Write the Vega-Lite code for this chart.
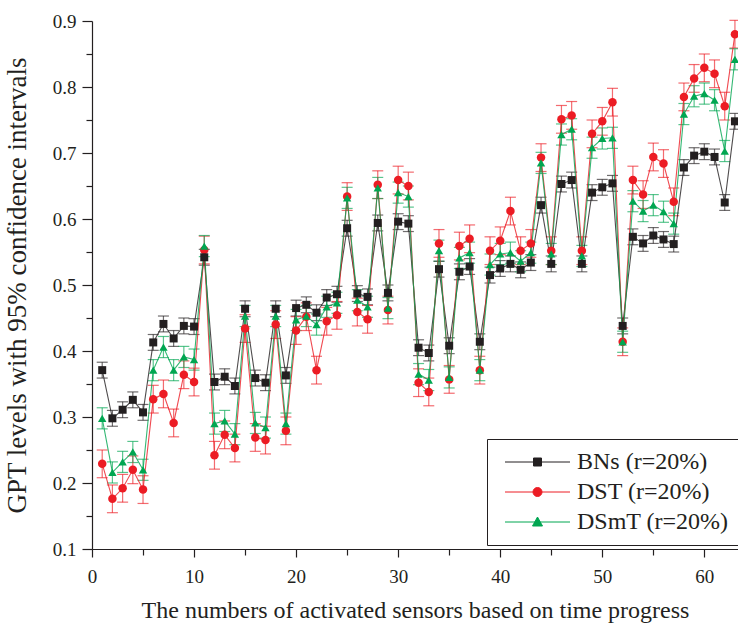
{
  "$schema": "https://vega.github.io/schema/vega-lite/v6.json",
  "width": 646,
  "height": 528,
  "autosize": "none",
  "padding": {"left": 92, "top": 21, "right": 0, "bottom": 80},
  "background": "white",
  "config": {
    "view": {"stroke": null},
    "font": "Liberation Serif",
    "axis": {"grid": false, "domainColor": "#231f20", "domainWidth": 1.2, "tickColor": "#231f20", "tickWidth": 1.2, "labelColor": "#231f20", "titleColor": "#231f20", "labelFont": "Liberation Serif", "titleFont": "Liberation Serif", "labelFontSize": 19, "titleFontSize": 24, "titleFontWeight": "normal"}
  },
  "datasets": {
    "wide": [
      {"x":1,"b":0.371,"d":0.229,"s":0.298},{"x":2,"b":0.298,"d":0.176,"s":0.216},{"x":3,"b":0.311,"d":0.192,"s":0.232},
      {"x":4,"b":0.326,"d":0.220,"s":0.247},{"x":5,"b":0.307,"d":0.190,"s":0.220},{"x":6,"b":0.413,"d":0.327,"s":0.371},
      {"x":7,"b":0.441,"d":0.335,"s":0.406},{"x":8,"b":0.419,"d":0.291,"s":0.371},{"x":9,"b":0.438,"d":0.364,"s":0.391},
      {"x":10,"b":0.437,"d":0.353,"s":0.387},{"x":11,"b":0.542,"d":0.553,"s":0.559},{"x":12,"b":0.353,"d":0.242,"s":0.290},
      {"x":13,"b":0.361,"d":0.273,"s":0.294},{"x":14,"b":0.347,"d":0.253,"s":0.274},{"x":15,"b":0.464,"d":0.434,"s":0.453},
      {"x":16,"b":0.359,"d":0.269,"s":0.291},{"x":17,"b":0.352,"d":0.265,"s":0.284},{"x":18,"b":0.464,"d":0.440,"s":0.453},
      {"x":19,"b":0.363,"d":0.279,"s":0.290},{"x":20,"b":0.465,"d":0.431,"s":0.447},{"x":21,"b":0.470,"d":0.452,"s":0.453},
      {"x":22,"b":0.458,"d":0.371,"s":0.440},{"x":23,"b":0.481,"d":0.445,"s":0.467},{"x":24,"b":0.486,"d":0.454,"s":0.473},
      {"x":25,"b":0.586,"d":0.634,"s":0.632},{"x":26,"b":0.487,"d":0.459,"s":0.477},{"x":27,"b":0.482,"d":0.448,"s":0.467},
      {"x":28,"b":0.594,"d":0.652,"s":0.647},{"x":29,"b":0.488,"d":0.462,"s":0.465},{"x":30,"b":0.596,"d":0.659,"s":0.640},
      {"x":31,"b":0.593,"d":0.650,"s":0.634},{"x":32,"b":0.405,"d":0.352,"s":0.365},{"x":33,"b":0.397,"d":0.338,"s":0.356},
      {"x":34,"b":0.524,"d":0.563,"s":0.552},{"x":35,"b":0.408,"d":0.357,"s":0.360},{"x":36,"b":0.520,"d":0.559,"s":0.541},
      {"x":37,"b":0.528,"d":0.570,"s":0.549},{"x":38,"b":0.414,"d":0.371,"s":0.371},{"x":39,"b":0.515,"d":0.552,"s":0.531},
      {"x":40,"b":0.525,"d":0.567,"s":0.547},{"x":41,"b":0.532,"d":0.612,"s":0.549},{"x":42,"b":0.523,"d":0.552,"s":0.536},
      {"x":43,"b":0.534,"d":0.563,"s":0.549},{"x":44,"b":0.621,"d":0.693,"s":0.685},{"x":45,"b":0.532,"d":0.552,"s":0.547},
      {"x":46,"b":0.653,"d":0.751,"s":0.728},{"x":47,"b":0.659,"d":0.757,"s":0.736},{"x":48,"b":0.532,"d":0.552,"s":0.544},
      {"x":49,"b":0.640,"d":0.729,"s":0.708},{"x":50,"b":0.648,"d":0.748,"s":0.722},{"x":51,"b":0.654,"d":0.777,"s":0.723},
      {"x":52,"b":0.438,"d":0.414,"s":0.414},{"x":53,"b":0.573,"d":0.659,"s":0.627},{"x":54,"b":0.563,"d":0.637,"s":0.612},
      {"x":55,"b":0.575,"d":0.694,"s":0.621},{"x":56,"b":0.569,"d":0.684,"s":0.611},{"x":57,"b":0.562,"d":0.626,"s":0.593},
      {"x":58,"b":0.678,"d":0.785,"s":0.759},{"x":59,"b":0.696,"d":0.813,"s":0.786},{"x":60,"b":0.702,"d":0.829,"s":0.790},
      {"x":61,"b":0.694,"d":0.820,"s":0.780},{"x":62,"b":0.625,"d":0.771,"s":0.703},{"x":63,"b":0.748,"d":0.880,"s":0.842}
    ]
  },
  "data": {"name": "wide"},
  "transform": [
    {"fold": ["b", "d", "s"], "as": ["key", "value"]},
    {"lookup": "key", "from": {"data": {"values": [
      {"key":"b","series":"BNs (r=20%)","err":0.012},
      {"key":"d","series":"DST (r=20%)","err":0.021},
      {"key":"s","series":"DSmT (r=20%)","err":0.016}
    ]}, "key": "key", "fields": ["series", "err"]}}
  ],
  "encoding": {
    "x": {"field": "x", "type": "quantitative",
      "scale": {"domain": [0, 63.3], "nice": false, "zero": false},
      "axis": {"title": "The numbers of activated sensors based on time progress", "values": [0,5,10,15,20,25,30,35,40,45,50,55,60],
        "labelExpr": "datum.value % 10 === 0 ? datum.label : ''", "tickSize": {"condition": {"test": "datum.value % 10 === 0", "value": 8}, "value": 6},
        "labelPadding": 10, "titlePadding": 12, "labelFlush": false}},
    "y": {"field": "value", "type": "quantitative",
      "scale": {"domain": [0.1, 0.9], "nice": false, "zero": false},
      "axis": {"title": "GPT levels with 95% confidence intervals", "titleFontSize": 27, "values": [0.1,0.15,0.2,0.25,0.3,0.35,0.4,0.45,0.5,0.55,0.6,0.65,0.7,0.75,0.8,0.85,0.9],
        "labelExpr": "abs(datum.value*10 - round(datum.value*10)) < 0.01 ? format(datum.value, '.1f') : ''",
        "tickSize": {"condition": {"test": "abs(datum.value*10 - round(datum.value*10)) < 0.01", "value": 10}, "value": 6},
        "labelPadding": 6, "titlePadding": 21, "labelFlush": false}}
  },
  "layer": [
    {"mark": {"type": "errorbar", "ticks": {"size": 11}, "thickness": 1.2, "opacity": 0.65},
      "encoding": {"yError": {"field": "err"},
        "color": {"field": "series", "type": "nominal", "scale": {"domain": ["DSmT (r=20%)", "DST (r=20%)", "BNs (r=20%)"], "range": ["#00a651", "#ec1c24", "#231f20"]}, "legend": null}}},
    {"mark": {"type": "line", "strokeWidth": 1.1, "opacity": 0.8},
      "encoding": {"color": {"field": "series", "type": "nominal", "legend": null}}},
    {"transform": [{"filter": {"field": "series", "equal": "DST (r=20%)"}}],
      "mark": {"type": "point", "shape": "circle", "filled": true, "size": 72, "opacity": 1},
      "encoding": {"color": {"field": "series", "type": "nominal", "legend": null}}},
    {"transform": [{"filter": {"field": "series", "equal": "DSmT (r=20%)"}}],
      "mark": {"type": "point", "shape": "triangle-up", "filled": true, "size": 70, "opacity": 1},
      "encoding": {"color": {"field": "series", "type": "nominal", "legend": null}}},
    {"transform": [{"filter": {"field": "series", "equal": "BNs (r=20%)"}}],
      "mark": {"type": "point", "shape": "square", "filled": true, "size": 64, "opacity": 1},
      "encoding": {"color": {"field": "series", "type": "nominal", "legend": null}}},
    {"mark": {"type": "point", "filled": true, "size": 4, "opacity": 0, "strokeWidth": 1},
      "encoding": {
        "fill": {"field": "series", "type": "nominal",
          "scale": {"domain": ["BNs (r=20%)", "DST (r=20%)", "DSmT (r=20%)"], "range": ["#231f20", "#ec1c24", "#00a651"]},
          "legend": {"title": null, "orient": "none", "legendX": 395, "legendY": 418, "strokeColor": "#231f20", "padding": 11,
            "symbolOffset": 27.5, "labelOffset": 27.5, "labelFontSize": 24, "labelFont": "Liberation Serif", "labelColor": "#231f20", "rowPadding": 6, "symbolSize": 4, "symbolStrokeWidth": 1, "symbolOpacity": 1, "labelLimit": 400}},
        "stroke": {"field": "series", "type": "nominal",
          "scale": {"domain": ["BNs (r=20%)", "DST (r=20%)", "DSmT (r=20%)"], "range": ["#231f20", "#ec1c24", "#00a651"]},
          "legend": {"title": null, "orient": "none", "legendX": 395, "legendY": 418, "strokeColor": "#231f20", "padding": 11,
            "symbolOffset": 27.5, "labelOffset": 27.5, "labelFontSize": 24, "labelFont": "Liberation Serif", "labelColor": "#231f20", "rowPadding": 6, "symbolSize": 4, "symbolStrokeWidth": 1, "symbolOpacity": 1, "labelLimit": 400}},
        "shape": {"field": "series", "type": "nominal",
          "scale": {"domain": ["BNs (r=20%)", "DST (r=20%)", "DSmT (r=20%)"], "range": ["M-32.5,0H32.5M-4,-4H4V4H-4Z", "M-32.5,0H32.5M4.5,0A4.5,4.5 0 1,1 -4.5,0A4.5,4.5 0 1,1 4.5,0Z", "M-32.5,0H32.5M0,-5L5,4H-5Z"]},
          "legend": {"title": null, "orient": "none", "legendX": 395, "legendY": 418, "strokeColor": "#231f20", "padding": 11,
            "symbolOffset": 27.5, "labelOffset": 27.5, "labelFontSize": 24, "labelFont": "Liberation Serif", "labelColor": "#231f20", "rowPadding": 6, "symbolSize": 4, "symbolStrokeWidth": 1, "symbolOpacity": 1, "labelLimit": 400}}
      }}
  ]
}
